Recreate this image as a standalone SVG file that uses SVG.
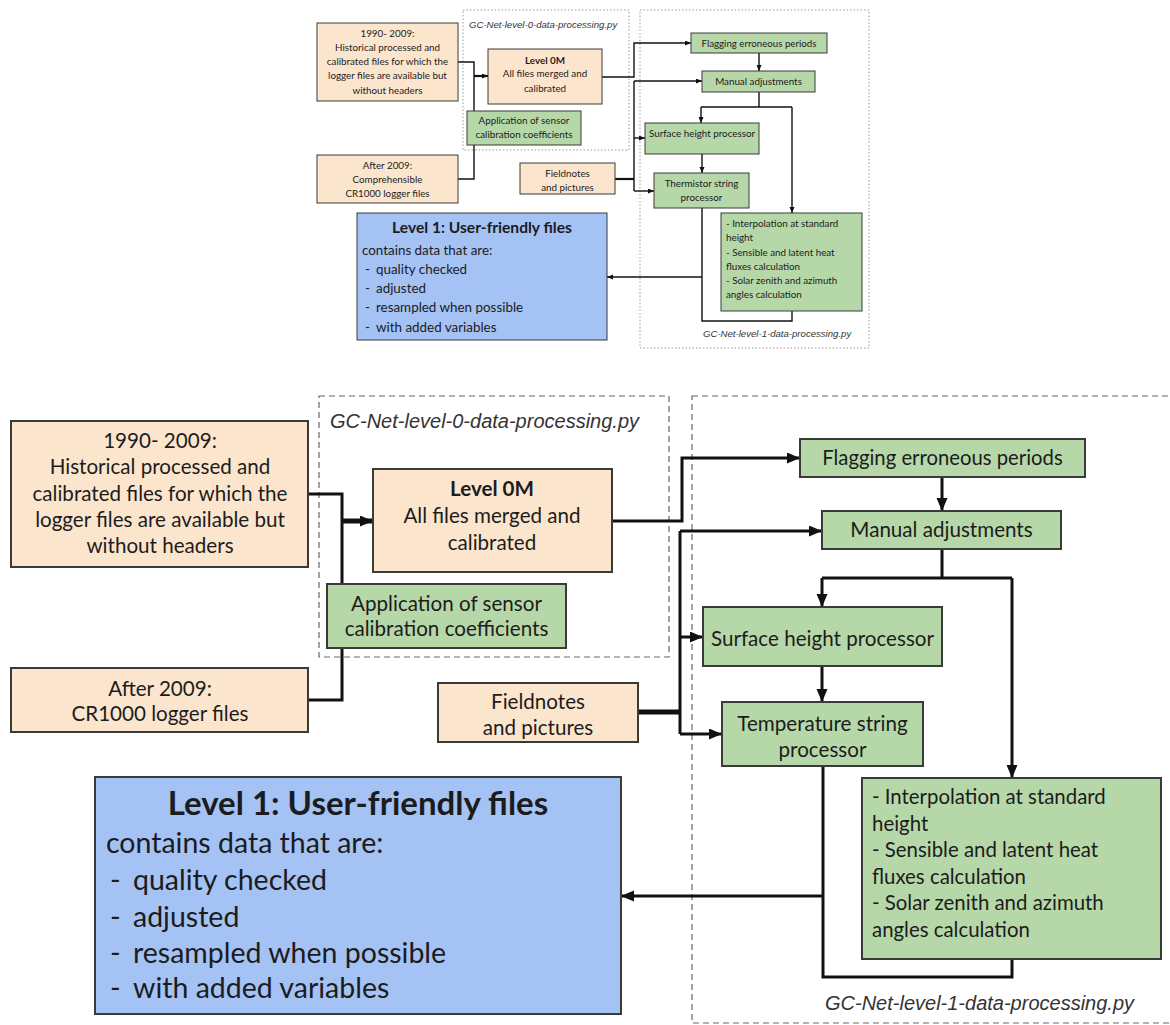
<svg xmlns="http://www.w3.org/2000/svg" width="1170" height="1025" viewBox="0 0 1170 1025">
<defs>
<style>
.bg{fill:#ffffff}
.o{fill:#fce5cd;stroke:#3a3a3a}
.g{fill:#b6d7a8;stroke:#3a3a3a}
.b{fill:#a4c2f4;stroke:#3a3a3a}
.s1 rect{stroke-width:1}
.s2 rect{stroke-width:2}
.t{font-family:Lato,"Liberation Sans",sans-serif;fill:#1c1c1c}
.m{text-anchor:middle}
.bd{font-weight:bold}
.py{font-family:"Liberation Sans",Arial,sans-serif;font-style:italic;fill:#333}
.dl1{fill:none;stroke:#9a9a9a;stroke-width:1;stroke-dasharray:1.5 2}
.dl2{fill:none;stroke:#666;stroke-width:1.2;stroke-dasharray:6 4}
.c1{fill:none;stroke:#111;stroke-width:1.4}
.c1t{fill:none;stroke:#111;stroke-width:2.2}
.c2{fill:none;stroke:#111;stroke-width:3}
.c2t{fill:none;stroke:#111;stroke-width:5}
</style>
<marker id="a1" markerUnits="userSpaceOnUse" markerWidth="7" markerHeight="6" refX="6" refY="2.5" orient="auto"><path d="M0,0 L6,2.5 L0,5 z" fill="#111"/></marker>
<marker id="a2" markerUnits="userSpaceOnUse" markerWidth="14" markerHeight="12" refX="13" refY="5.5" orient="auto"><path d="M0,0 L13,5.5 L0,11 z" fill="#111"/></marker>
</defs>
<rect class="bg" x="0" y="0" width="1170" height="1025"/>

<!-- ================= TOP (small) DIAGRAM ================= -->
<g id="top-containers">
<rect class="dl1" x="463" y="10" width="166" height="140"/>
<text class="py" x="469" y="27.5" font-size="9.6">GC-Net-level-0-data-processing.py</text>
<rect class="dl1" x="640" y="10" width="229" height="338"/>
<text class="py" x="703" y="337" font-size="9.6">GC-Net-level-1-data-processing.py</text>
</g>

<g id="top-connectors">
<path class="c1" d="M458,62 H474 V179 H458"/>
<path class="c1t" d="M474,76 H488" marker-end="url(#a1)"/>
<path class="c1" d="M602,77 H634 V43 H691" marker-end="url(#a1)"/>
<path class="c1t" d="M615,179 H634"/>
<path class="c1" d="M634,81 V191"/>
<path class="c1" d="M634,81 H702" marker-end="url(#a1)"/>
<path class="c1" d="M634,138 H645" marker-end="url(#a1)"/>
<path class="c1" d="M634,191 H654" marker-end="url(#a1)"/>
<path class="c1" d="M759,53 V71" marker-end="url(#a1)"/>
<path class="c1" d="M759,92 V107 M701,107 H792"/>
<path class="c1" d="M701,107 V123" marker-end="url(#a1)"/>
<path class="c1" d="M792,107 V213" marker-end="url(#a1)"/>
<path class="c1" d="M702,154 V173" marker-end="url(#a1)"/>
<path class="c1" d="M702,208 V321 H792 V311"/>
<path class="c1" d="M702,277 H607" marker-end="url(#a1)"/>
</g>

<g id="top-n-1990" class="s1">
<rect class="o" x="317" y="23" width="141" height="78"/>
<text class="t m" font-size="9.8"><tspan x="387.5" y="36.5">1990- 2009:</tspan><tspan x="387.5" y="51">Historical processed and</tspan><tspan x="387.5" y="65">calibrated files for which the</tspan><tspan x="387.5" y="79">logger files are available but</tspan><tspan x="387.5" y="93.5">without headers</tspan></text>
</g>
<g id="top-n-level0m" class="s1">
<rect class="o" x="488" y="49" width="114" height="55"/>
<text class="t m" font-size="9.8"><tspan class="bd" x="545" y="63.5">Level 0M</tspan><tspan x="545" y="77">All files merged and</tspan><tspan x="545" y="91.5">calibrated</tspan></text>
</g>
<g id="top-n-application" class="s1">
<rect class="g" x="467" y="111" width="114" height="34"/>
<text class="t m" font-size="9.8"><tspan x="524" y="123.5">Application of sensor</tspan><tspan x="524" y="137.5">calibration coefficients</tspan></text>
</g>
<g id="top-n-after2009" class="s1">
<rect class="o" x="317" y="155" width="141" height="48"/>
<text class="t m" font-size="9.8"><tspan x="387.5" y="168.5">After 2009:</tspan><tspan x="387.5" y="182.5">Comprehensible</tspan><tspan x="387.5" y="196.5">CR1000 logger files</tspan></text>
</g>
<g id="top-n-fieldnotes" class="s1">
<rect class="o" x="520" y="163" width="95" height="31"/>
<text class="t m" font-size="9.8"><tspan x="567.5" y="176.5">Fieldnotes</tspan><tspan x="567.5" y="190.5">and pictures</tspan></text>
</g>
<g id="top-n-flagging" class="s1">
<rect class="g" x="691" y="33" width="136" height="20"/>
<text class="t m" font-size="9.7" x="759" y="46.5">Flagging erroneous periods</text>
</g>
<g id="top-n-manual" class="s1">
<rect class="g" x="702" y="71" width="113" height="21"/>
<text class="t m" font-size="9.8" x="758.5" y="84.5">Manual adjustments</text>
</g>
<g id="top-n-surface" class="s1">
<rect class="g" x="645" y="123" width="114" height="31"/>
<text class="t m" font-size="9.8" x="702" y="136.5">Surface height processor</text>
</g>
<g id="top-n-thermistor" class="s1">
<rect class="g" x="654" y="173" width="95" height="35"/>
<text class="t m" font-size="9.8"><tspan x="701.5" y="186.5">Thermistor string</tspan><tspan x="701.5" y="200.5">processor</tspan></text>
</g>
<g id="top-n-interp" class="s1">
<rect class="g" x="721" y="213" width="141" height="98"/>
<text class="t" font-size="9.8"><tspan x="726" y="226.5">- Interpolation at standard</tspan><tspan x="726" y="241">height</tspan><tspan x="726" y="255.5">- Sensible and latent heat</tspan><tspan x="726" y="269.5">fluxes calculation</tspan><tspan x="726" y="283.5">- Solar zenith and azimuth</tspan><tspan x="726" y="297.5">angles calculation</tspan></text>
</g>
<g id="top-n-level1" class="s1">
<rect class="b" x="357" y="213" width="250" height="127"/>
<text class="t m bd" font-size="15.6" x="482" y="232.5">Level 1: User-friendly files</text>
<text class="t" font-size="13.4"><tspan x="362" y="255">contains data that are:</tspan><tspan x="365" y="274">-</tspan><tspan x="376" y="274">quality checked</tspan><tspan x="365" y="293">-</tspan><tspan x="376" y="293">adjusted</tspan><tspan x="365" y="312">-</tspan><tspan x="376" y="312">resampled when possible</tspan><tspan x="365" y="332">-</tspan><tspan x="376" y="332">with added variables</tspan></text>
</g>

<!-- ================= LOWER (large) DIAGRAM ================= -->
<g id="containers">
<rect class="dl2" x="319" y="396" width="350" height="261"/>
<text class="py" x="330" y="428" font-size="20">GC-Net-level-0-data-processing.py</text>
<rect class="dl2" x="692" y="396" width="520" height="627"/>
<text class="py" x="825" y="1010" font-size="20">GC-Net-level-1-data-processing.py</text>
</g>

<g id="connectors">
<path class="c2" d="M308,494 H342 V700 H308"/>
<path class="c2t" d="M342,521 H373" marker-end="url(#a2)"/>
<path class="c2" d="M612,521 H682 V458 H800" marker-end="url(#a2)"/>
<path class="c2t" d="M638,712 H680"/>
<path class="c2" d="M680,531 V734"/>
<path class="c2" d="M680,531 H822" marker-end="url(#a2)"/>
<path class="c2" d="M680,637 H703" marker-end="url(#a2)"/>
<path class="c2" d="M680,734 H722" marker-end="url(#a2)"/>
<path class="c2" d="M942,477 V511" marker-end="url(#a2)"/>
<path class="c2" d="M942,549 V578 M822,578 H1012"/>
<path class="c2" d="M822,578 V607" marker-end="url(#a2)"/>
<path class="c2" d="M1012,578 V778" marker-end="url(#a2)"/>
<path class="c2" d="M822,666 V702" marker-end="url(#a2)"/>
<path class="c2" d="M823,766 V977 H1012 V959"/>
<path class="c2" d="M823,896 H621" marker-end="url(#a2)"/>
</g>

<g id="n-1990" class="s2">
<rect class="o" x="11" y="421" width="297" height="146"/>
<text class="t m" font-size="20.6"><tspan x="160" y="447.5">1990- 2009:</tspan><tspan x="160" y="473.5">Historical processed and</tspan><tspan x="160" y="500.5">calibrated files for which the</tspan><tspan x="160" y="526.5">logger files are available but</tspan><tspan x="160" y="552.5">without headers</tspan></text>
</g>
<g id="n-level0m" class="s2">
<rect class="o" x="373" y="469" width="239" height="103"/>
<text class="t m" font-size="20.6"><tspan class="bd" x="492" y="495.5">Level 0M</tspan><tspan x="492" y="522.5">All files merged and</tspan><tspan x="492" y="549.5">calibrated</tspan></text>
</g>
<g id="n-application" class="s2">
<rect class="g" x="327" y="584" width="239" height="64"/>
<text class="t m" font-size="20.6"><tspan x="446.5" y="610.5">Application of sensor</tspan><tspan x="446.5" y="635.5">calibration coefficients</tspan></text>
</g>
<g id="n-after2009" class="s2">
<rect class="o" x="11" y="668" width="297" height="64"/>
<text class="t m" font-size="20.6"><tspan x="160" y="695.5">After 2009:</tspan><tspan x="160" y="720.5">CR1000 logger files</tspan></text>
</g>
<g id="n-fieldnotes" class="s2">
<rect class="o" x="438" y="683" width="200" height="59"/>
<text class="t m" font-size="20.6"><tspan x="538" y="708.5">Fieldnotes</tspan><tspan x="538" y="734.5">and pictures</tspan></text>
</g>
<g id="n-flagging" class="s2">
<rect class="g" x="800" y="439" width="285" height="38"/>
<text class="t m" font-size="20.3" x="942.5" y="464.5">Flagging erroneous periods</text>
</g>
<g id="n-manual" class="s2">
<rect class="g" x="822" y="511" width="239" height="38"/>
<text class="t m" font-size="20.6" x="941.5" y="536.5">Manual adjustments</text>
</g>
<g id="n-surface" class="s2">
<rect class="g" x="703" y="607" width="239" height="59"/>
<text class="t m" font-size="20.6" x="822.5" y="645.5">Surface height processor</text>
</g>
<g id="n-temperature" class="s2">
<rect class="g" x="722" y="702" width="201" height="64"/>
<text class="t m" font-size="20.6"><tspan x="822.5" y="730.5">Temperature string</tspan><tspan x="822.5" y="756.5">processor</tspan></text>
</g>
<g id="n-interp" class="s2">
<rect class="g" x="862" y="778" width="299" height="181"/>
<text class="t" font-size="20.4"><tspan x="872" y="803.5">- Interpolation at standard</tspan><tspan x="872" y="830.5">height</tspan><tspan x="872" y="856.5">- Sensible and latent heat</tspan><tspan x="872" y="883.5">fluxes calculation</tspan><tspan x="872" y="909.5">- Solar zenith and azimuth</tspan><tspan x="872" y="936.5">angles calculation</tspan></text>
</g>
<g id="n-level1" class="s2">
<rect class="b" x="95" y="777" width="526" height="237"/>
<text class="t m bd" font-size="33" x="358" y="815">Level 1: User-friendly files</text>
<text class="t" font-size="28.5"><tspan x="106" y="853">contains data that are:</tspan><tspan x="110" y="890">-</tspan><tspan x="133" y="890">quality checked</tspan><tspan x="110" y="927">-</tspan><tspan x="133" y="927">adjusted</tspan><tspan x="110" y="963">-</tspan><tspan x="133" y="963">resampled when possible</tspan><tspan x="110" y="998">-</tspan><tspan x="133" y="998">with added variables</tspan></text>
</g>
</svg>
